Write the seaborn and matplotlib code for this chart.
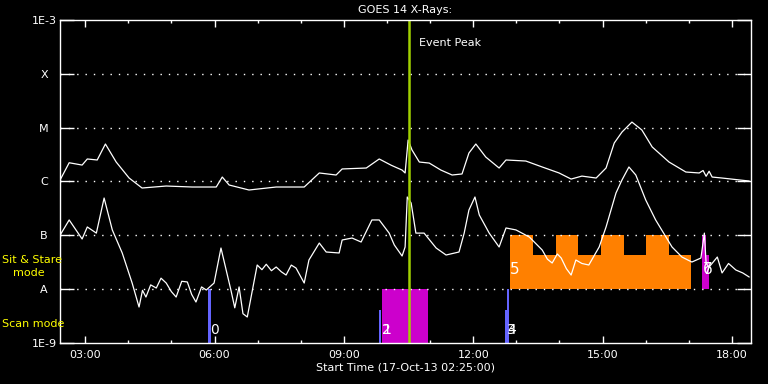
import numpy as np
import pandas as pd
import matplotlib
matplotlib.use("Agg")
import matplotlib.pyplot as plt
from matplotlib.ticker import FixedLocator, MultipleLocator, NullLocator, FuncFormatter
import seaborn as sns

# GOES long channel (1-8 A), time in hours of 17-Oct-13
long_time = [2.42, 2.63, 2.93, 3.05, 3.28, 3.47, 3.72, 4.02, 4.32, 4.88, 5.48, 6.04, 6.18, 6.34,
             6.80, 7.43, 8.08, 8.43, 8.82, 8.96, 9.52, 9.82, 10.10, 10.35, 10.42, 10.49, 10.58,
             10.75, 10.98, 11.25, 11.51, 11.74, 11.90, 12.06, 12.29, 12.60, 12.76, 13.22, 13.60,
             13.99, 14.27, 14.52, 14.85, 15.08, 15.27, 15.45, 15.68, 15.91, 16.15, 16.54, 16.93,
             17.24, 17.33, 17.40, 17.47, 17.54, 17.77, 18.40]
long_flux = [1.07e-6, 2.23e-6, 2.02e-6, 2.62e-6, 2.51e-6, 4.97e-6, 2.30e-6, 1.16e-6, 7.57e-7,
             8.24e-7, 7.9e-7, 7.9e-7, 1.21e-6, 8.6e-7, 6.95e-7, 7.9e-7, 7.9e-7, 1.44e-6, 1.32e-6,
             1.71e-6, 1.78e-6, 2.62e-6, 2.0e-6, 1.63e-6, 1.44e-6, 5.9e-6, 3.85e-6, 2.30e-6, 2.20e-6,
             1.63e-6, 1.32e-6, 1.38e-6, 3.38e-6, 4.97e-6, 2.85e-6, 1.78e-6, 2.51e-6, 2.40e-6,
             1.86e-6, 1.44e-6, 1.11e-6, 1.26e-6, 1.16e-6, 1.78e-6, 5.19e-6, 8.3e-6, 1.27e-5,
             9.06e-6, 4.38e-6, 2.30e-6, 1.50e-6, 1.44e-6, 1.6e-6, 1.25e-6, 1.55e-6, 1.21e-6,
             1.16e-6, 1.02e-6]

# GOES short channel (0.5-4 A)
short_time = [2.42, 2.63, 2.93, 3.05, 3.26, 3.44, 3.63, 3.86, 4.09, 4.25, 4.33, 4.41, 4.52, 4.65,
              4.76, 4.88, 5.00, 5.11, 5.24, 5.37, 5.47, 5.57, 5.70, 5.81, 5.99, 6.15, 6.38, 6.47,
              6.57, 6.66, 6.76, 6.99, 7.10, 7.20, 7.32, 7.43, 7.55, 7.66, 7.78, 7.89, 8.08, 8.19,
              8.43, 8.59, 8.89, 8.96, 9.19, 9.40, 9.65, 9.82, 10.05, 10.17, 10.35, 10.42, 10.47,
              10.56, 10.67, 10.86, 11.14, 11.37, 11.67, 11.79, 11.90, 12.04, 12.14, 12.37, 12.60,
              12.76, 12.99, 13.30, 13.60, 13.72, 13.83, 13.95, 14.04, 14.16, 14.27, 14.38, 14.52,
              14.68, 14.92, 15.08, 15.31, 15.45, 15.61, 15.77, 16.00, 16.23, 16.37, 16.61, 16.84,
              17.07, 17.28, 17.36, 17.40, 17.47, 17.66, 17.77, 17.92, 18.09, 18.25, 18.40]
short_flux = [1.01e-7, 1.93e-7, 8.55e-8, 1.43e-7, 1.10e-7, 4.93e-7, 1.26e-7, 4.70e-8, 1.30e-8,
              4.66e-9, 9.5e-9, 7.14e-9, 1.2e-8, 1.05e-8, 1.6e-8, 1.30e-8, 9.0e-9, 7.14e-9, 1.4e-8,
              1.36e-8, 8.0e-9, 5.77e-9, 1.1e-8, 9.64e-9, 1.30e-8, 5.81e-8, 9.64e-9, 4.5e-9,
              1.1e-8, 3.5e-9, 3.04e-9, 2.81e-8, 2.3e-8, 2.9e-8, 2.2e-8, 2.58e-8, 2.1e-8, 1.83e-8,
              2.8e-8, 2.47e-8, 1.30e-8, 3.48e-8, 7.19e-8, 4.90e-8, 4.70e-8, 8.19e-8, 8.91e-8,
              7.51e-8, 1.93e-7, 1.93e-7, 1.10e-7, 6.61e-8, 4.13e-8, 6.07e-8, 5.15e-7, 3.98e-7,
              1.10e-7, 1.10e-7, 5.81e-8, 4.31e-8, 4.90e-8, 1.10e-7, 2.95e-7, 5.15e-7, 2.39e-7,
              1.10e-7, 6.07e-8, 1.37e-7, 1.26e-7, 9.31e-8, 5.33e-8, 3.6e-8, 3.06e-8, 4.5e-8,
              3.79e-8, 2.4e-8, 1.83e-8, 3.48e-8, 3.0e-8, 2.81e-8, 6.07e-8, 1.43e-7, 6.11e-7,
              1.07e-6, 1.86e-6, 1.32e-6, 4.53e-7, 1.93e-7, 1.26e-7, 6.07e-8, 3.95e-8, 3.19e-8,
              3.79e-8, 1.1e-7, 3.0e-8, 2.58e-8, 3.95e-8, 2.0e-8, 3.0e-8, 2.27e-8, 2.0e-8, 1.68e-8]

# IRIS observations: scan mode (blue/purple) and sit & stare (orange/purple)
scan_start = [5.85, 9.82, 12.74, 12.79]
scan_end = [5.92, 9.87, 12.84, 12.84]
scan_top = [1e-8, 4.1e-9, 4.1e-9, 1e-8]
scan_big_start = [9.89]
scan_big_end = [10.95]
sit_start = [12.86, 13.385, 13.91, 14.435, 14.96, 15.485, 16.01, 16.535]
sit_end = [13.385, 13.91, 14.435, 14.96, 15.485, 16.01, 16.535, 17.06]
sit_top = [1e-7, 4.3e-8, 1e-7, 4.3e-8, 1e-7, 4.3e-8, 1e-7, 4.3e-8]
sit2_start = [17.31, 17.39]
sit2_end = [17.39, 17.47]
sit2_top = [1e-7, 4.3e-8]

obs_labels = [("0", 5.90, 1.3e-9), ("1", 9.89, 1.3e-9), ("2", 9.89, 1.3e-9),
              ("3", 12.79, 1.3e-9), ("4", 12.79, 1.3e-9), ("5", 12.86, 1.68e-8),
              ("6", 17.33, 1.68e-8), ("7", 17.33, 1.68e-8)]

event_peak = 10.51
x_min, x_max = 2.4167, 18.44
decades = [1e-9, 1e-8, 1e-7, 1e-6, 1e-5, 1e-4, 1e-3]
decade_names = ["1E-9", "A", "B", "C", "M", "X", "1E-3"]

sns.set_theme(style="dark", rc={"axes.facecolor": "black", "figure.facecolor": "black",
                                "axes.edgecolor": "white", "text.color": "white",
                                "xtick.color": "white", "ytick.color": "white"})
plt.rcParams["font.family"] = ["DejaVu Sans"]

fig = plt.figure(figsize=(7.68, 3.84), dpi=100)
ax = fig.add_axes([0.0781, 0.1068, 0.8997, 0.8411])
ax.set_yscale("log")

# observation blocks
for s, e, t in zip(scan_start, scan_end, scan_top):
    ax.bar(s, t - 1e-9, width=e - s, bottom=1e-9, align="edge", color="#6464ff", lw=0)
for s, e in zip(scan_big_start, scan_big_end):
    ax.bar(s, 1e-8 - 1e-9, width=e - s, bottom=1e-9, align="edge", color="#cc00cc", lw=0)
for s, e, t in zip(sit_start, sit_end, sit_top):
    ax.bar(s, t - 1e-8, width=e - s, bottom=1e-8, align="edge", color="#ff8000", lw=0)
for s, e, t in zip(sit2_start, sit2_end, sit2_top):
    ax.bar(s, t - 1e-8, width=e - s, bottom=1e-8, align="edge", color="#cc00cc", lw=0)

for txt, x, y in obs_labels:
    fs = 10 if y < 1e-8 else 11
    ax.text(x, y, txt, color="white", fontsize=fs, ha="left", va="bottom")

# dotted level lines
for d in decades[1:-1]:
    ax.axhline(d, color="white", lw=1, ls=(0, (1, 5)), zorder=1)

df_long = pd.DataFrame({"time": long_time, "flux": long_flux})
df_short = pd.DataFrame({"time": short_time, "flux": short_flux})
sns.lineplot(data=df_long, x="time", y="flux", color="white", lw=0.9, ax=ax)
sns.lineplot(data=df_short, x="time", y="flux", color="white", lw=0.9, ax=ax)

ax.axvline(event_peak, color="#a0d000", lw=1.8)
ax.text(event_peak + 0.23, 3.7e-4, "Event Peak", color="white", fontsize=8, va="center")

ax.set_xlim(x_min, x_max)
ax.set_ylim(1e-9, 1e-3)
ax.xaxis.set_major_locator(MultipleLocator(3))
ax.xaxis.set_minor_locator(MultipleLocator(1))
ax.xaxis.set_major_formatter(FuncFormatter(lambda v, p: "%02d:00" % int(round(v))))
ax.yaxis.set_major_locator(FixedLocator(decades))
ax.yaxis.set_minor_locator(NullLocator())
ax.set_yticklabels(decade_names)
for lab in ax.get_yticklabels():
    lab.set_horizontalalignment("center")

ax.tick_params(axis="x", which="major", direction="in", length=5, width=1, top=True,
               bottom=True, labelsize=8, pad=5)
ax.tick_params(axis="x", which="minor", direction="in", length=2.5, width=1, top=True,
               bottom=True)
ax.tick_params(axis="y", which="major", direction="in", length=10, width=1, left=True,
               right=True, labelsize=8, pad=11.5)
for sp in ax.spines.values():
    sp.set_color("white")
    sp.set_linewidth(1)
ax.grid(False)

ax.set_xlabel("Start Time (17-Oct-13 02:25:00)", fontsize=8, color="white", labelpad=2)
ax.set_ylabel("")
ax.set_title("GOES 14 X-Rays:", fontsize=8, color="white", pad=5)

fig.text(2 / 768, 1 - 260 / 384, "Sit & Stare", color="#ffff00", fontsize=8, va="center")
fig.text(13 / 768, 1 - 273 / 384, "mode", color="#ffff00", fontsize=8, va="center")
fig.text(2 / 768, 1 - 324 / 384, "Scan mode", color="#ffff00", fontsize=8, va="center")

fig.savefig("out.png", dpi=100, facecolor="black")
